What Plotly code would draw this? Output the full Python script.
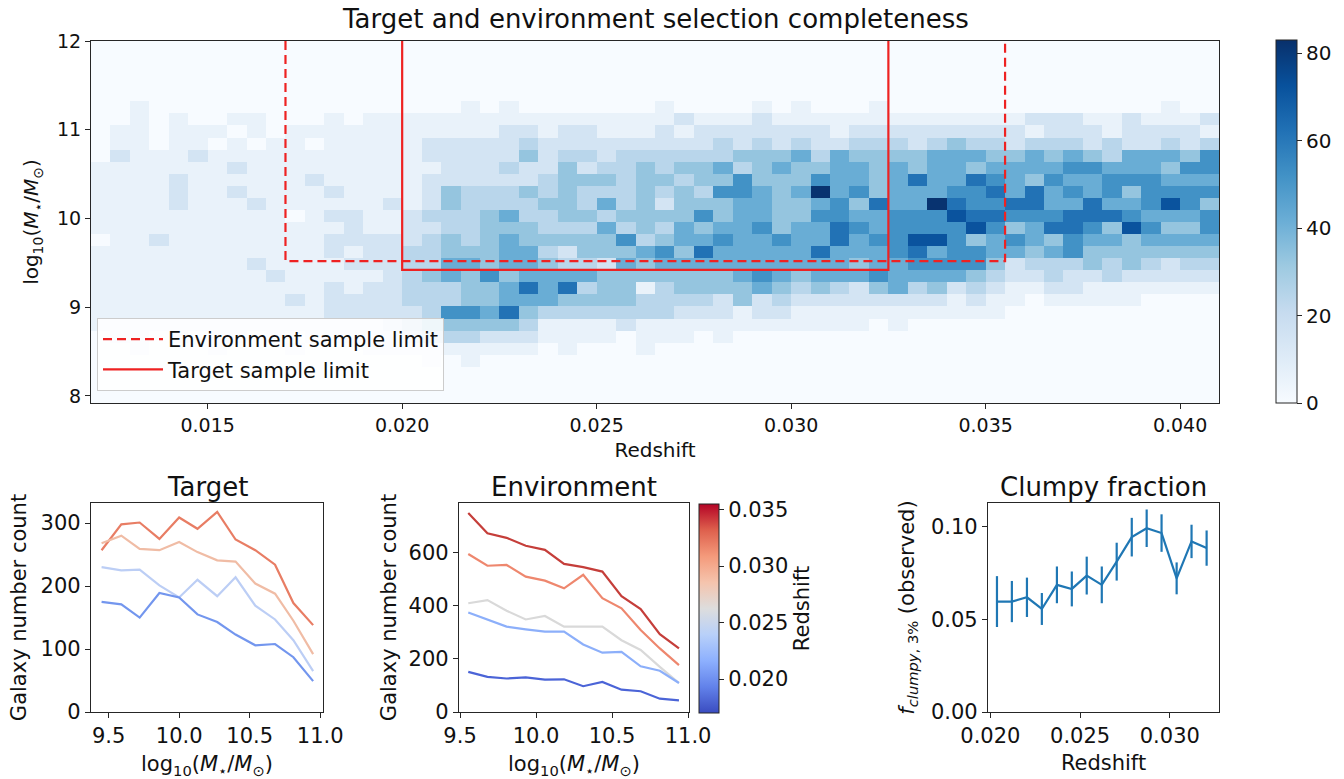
import numpy as np
import plotly.graph_objects as go

# ---------------- data ----------------
# 2D histogram of (redshift, log mass); rows listed from TOP (high mass) to BOTTOM (low mass)
# each character is a count level; LEVEL_COUNTS maps a level to galaxies per cell
LEVEL_COUNTS = [0, 6, 15, 24, 33, 42, 52, 62, 72, 82]
HIST_ROWS = [
    "0000000000000000000000000000000000000000000000000000000000",
    "0000000000000000000000000000000000000000000000000000000000",
    "0000000000000000000000000000000000000000000000000000000000",
    "0000000000000000000000000000000000000000000000000000000000",
    "0000000000000000000000000000000000000000000000000000000000",
    "001000000000" "00000001010" "000000100001" "01000100000" "000000000100",
    "001010011000" "10111111111" "111111121112" "11111111111" "112221121112",
    "011011101011" "11111111122" "122111212222" "22212222222" "221222122221",
    "011011010110" "11111222223" "222222222323" "23223332343" "323332322323",
    "021112111111" "11111222224" "233233333344" "45354444555" "445454355546",
    "111111121111" "11111122232" "242334344534" "54455454554" "555566555466",
    "111121111112" "11111222222" "344434434464" "44655457557" "654655666555",
    "111121121111" "21111243334" "343334343665" "45956455566" "757565646666",
    "111121112111" "11121243333" "443534244455" "44564755976" "677557556864",
    "111111111101" "22112333453" "344344446455" "44665566687" "766677765556",
    "111111111111" "12112233444" "333534354556" "45576566668" "645776486446",
    "011211111111" "22222343454" "444463455655" "65575668864" "565465545555",
    "111111111111" "21223344455" "324445647555" "55755567566" "554564444444",
    "111111112111" "12223355455" "433254555555" "55554556666" "423334343233",
    "111111111211" "11123454645" "555444444456" "54555655554" "322322322222",
    "111111111111" "21223334457" "573441344445" "43432453423" "211221111111",
    "111111111121" "22223334455" "544443333242" "32222222212" "110111110000",
    "111111111111" "22222366574" "333333322212" "21111111111" "100000000000",
    "111111111111" "11123444443" "111121111111" "11111010000" "000000000000",
    "011010110101" "11112333222" "111101110100" "00000000000" "000000000000",
    "001000100010" "00111111111" "010001000000" "00000000000" "000000000000",
    "000000000000" "00000101000" "000000000000" "00000000000" "000000000000",
    "0000000000000000000000000000000000000000000000000000000000",
    "0000000000000000000000000000000000000000000000000000000000",
    "0000000000000000000000000000000000000000000000000000000000",
]
Z_RANGE = (0.012, 0.041)          # redshift histogram range
MASS_RANGE = (7.92, 12.0)         # log mass histogram range

ENV_Z_LIMITS = [0.017, 0.0355]
ENV_MASS_LIMIT = 9.52
TGT_Z_LIMITS = [0.020, 0.0325]
TGT_MASS_LIMIT = 9.42

# Target: galaxy counts per mass bin, four redshift slices
TGT_MASS = [9.45, 9.59, 9.72, 9.86, 10.0, 10.13, 10.27, 10.4, 10.54, 10.68, 10.81, 10.95]
TGT_COUNTS = [
    [257, 298, 301, 275, 309, 291, 318, 274, 257, 234, 173, 138],
    [268, 280, 259, 257, 270, 254, 241, 239, 204, 188, 145, 92],
    [230, 225, 226, 201, 182, 210, 184, 214, 169, 147, 114, 65],
    [175, 171, 150, 189, 182, 155, 143, 123, 106, 108, 87, 49],
]
TGT_COLORS = ["#e87d64", "#f0bca5", "#bccef5", "#7396ee"]

# Environment: galaxy counts per mass bin, five redshift slices
ENV_MASS = [9.554, 9.68, 9.806, 9.932, 10.058, 10.184, 10.31, 10.436, 10.562, 10.688, 10.814, 10.94]
ENV_COUNTS = [
    [748, 672, 655, 625, 610, 557, 545, 528, 436, 387, 293, 239],
    [594, 550, 553, 509, 494, 465, 516, 428, 390, 308, 239, 176],
    [409, 421, 381, 348, 361, 321, 321, 321, 270, 233, 170, 109],
    [374, 346, 321, 311, 302, 302, 254, 223, 226, 172, 155, 109],
    [151, 132, 126, 130, 122, 123, 97, 113, 84, 78, 50, 44],
]
ENV_COLORS = ["#c53e3a", "#ee876e", "#d9d9d9", "#8cafFA", "#4b64d7"]

# Clumpy fraction vs redshift
CLUMPY_Z = [0.02037, 0.0212, 0.02204, 0.02287, 0.02371, 0.02454, 0.02537, 0.02621,
            0.02704, 0.02788, 0.02871, 0.02954, 0.03038, 0.03121, 0.03205]
CLUMPY_F = [0.0595, 0.0595, 0.0618, 0.0555, 0.0685, 0.0663, 0.0735, 0.0685,
            0.081, 0.0942, 0.099, 0.0964, 0.072, 0.0919, 0.0883]
CLUMPY_ERR = [0.0137, 0.0111, 0.0106, 0.0086, 0.0099, 0.0094, 0.0102, 0.0099,
              0.0102, 0.0104, 0.0101, 0.0101, 0.0086, 0.009, 0.0095]

# ---------------- figure ----------------
W, H = 1344, 779
FONT = "DejaVu Sans"
AX = "#262626"

hist = np.array([[LEVEL_COUNTS[int(c)] for c in row] for row in HIST_ROWS][::-1], dtype=float)
nrow, ncol = hist.shape
zx_edges = np.linspace(Z_RANGE[0], Z_RANGE[1], ncol + 1)
my_edges = np.linspace(MASS_RANGE[0], MASS_RANGE[1], nrow + 1)
zx_c = 0.5 * (zx_edges[:-1] + zx_edges[1:])
my_c = 0.5 * (my_edges[:-1] + my_edges[1:])

BLUES = [[0.0, "rgb(247,251,255)"], [0.125, "rgb(222,235,247)"], [0.25, "rgb(198,219,239)"],
         [0.375, "rgb(158,202,225)"], [0.5, "rgb(107,174,214)"], [0.625, "rgb(66,146,198)"],
         [0.75, "rgb(33,113,181)"], [0.875, "rgb(8,81,156)"], [1.0, "rgb(8,48,107)"]]
COOLWARM = [[0.0, "rgb(58,76,192)"], [0.125, "rgb(98,130,234)"], [0.25, "rgb(141,176,254)"],
            [0.375, "rgb(184,208,249)"], [0.5, "rgb(221,221,221)"], [0.625, "rgb(245,196,173)"],
            [0.75, "rgb(244,154,123)"], [0.875, "rgb(222,96,77)"], [1.0, "rgb(180,4,38)"]]

def px_x(a, b):
    return [a / W, b / W]

def px_y(top, bottom):
    return [1 - bottom / H, 1 - top / H]

fig = go.Figure()

fig.add_trace(go.Heatmap(
    x=zx_c, y=my_c, z=hist, colorscale=BLUES, zmin=0, zmax=83,
    xaxis="x", yaxis="y", hoverinfo="skip",
    colorbar=dict(x=1276 / W, xanchor="left", xpad=0, ypad=0, thickness=21,
                  lenmode="pixels", len=363, y=1 - 221.5 / H, yanchor="middle",
                  outlinewidth=1, outlinecolor=AX, tickvals=[0, 20, 40, 60, 80],
                  ticks="outside", ticklen=5, tickcolor=AX,
                  tickfont=dict(family=FONT, size=20, color="#111")),
))

ytop = MASS_RANGE[1]
fig.add_trace(go.Scatter(
    x=[ENV_Z_LIMITS[0], ENV_Z_LIMITS[0], ENV_Z_LIMITS[1], ENV_Z_LIMITS[1]],
    y=[ytop, ENV_MASS_LIMIT, ENV_MASS_LIMIT, ytop],
    mode="lines", line=dict(color="#ee2222", width=2.2, dash="9px,5px"),
    name="Environment sample limit", xaxis="x", yaxis="y"))
fig.add_trace(go.Scatter(
    x=[TGT_Z_LIMITS[0], TGT_Z_LIMITS[0], TGT_Z_LIMITS[1], TGT_Z_LIMITS[1]],
    y=[ytop, TGT_MASS_LIMIT, TGT_MASS_LIMIT, ytop],
    mode="lines", line=dict(color="#ee2222", width=2.2),
    name="Target sample limit", xaxis="x", yaxis="y"))

for counts, col in zip(TGT_COUNTS, TGT_COLORS):
    fig.add_trace(go.Scatter(x=TGT_MASS, y=counts, mode="lines", line=dict(color=col, width=2.2),
                             xaxis="x2", yaxis="y2", showlegend=False))
for counts, col in zip(ENV_COUNTS, ENV_COLORS):
    fig.add_trace(go.Scatter(x=ENV_MASS, y=counts, mode="lines", line=dict(color=col, width=2.2),
                             xaxis="x3", yaxis="y3", showlegend=False))

# colour bar for the environment redshift slices
fig.add_trace(go.Scatter(
    x=ENV_MASS[:2], y=ENV_COUNTS[0][:2], mode="markers", xaxis="x3", yaxis="y3",
    showlegend=False, hoverinfo="skip",
    marker=dict(size=0.1, opacity=0, color=[ENV_Z_LIMITS[0], ENV_Z_LIMITS[1]],
                colorscale=COOLWARM, cmin=ENV_Z_LIMITS[0], cmax=ENV_Z_LIMITS[1], showscale=True,
                colorbar=dict(x=699 / W, xanchor="left", xpad=0, ypad=0, thickness=20,
                              lenmode="pixels", len=209, y=1 - 608.5 / H, yanchor="middle",
                              outlinewidth=1, outlinecolor=AX,
                              tickvals=[0.020, 0.025, 0.030, 0.035], tickformat=".3f",
                              ticks="outside", ticklen=5, tickcolor=AX,
                              tickfont=dict(family=FONT, size=21, color="#111"),
                              title=dict(text="Redshift", side="right",
                                         font=dict(family=FONT, size=21, color="#111"))))))

fig.add_trace(go.Scatter(
    x=CLUMPY_Z, y=CLUMPY_F, mode="lines", line=dict(color="#1f77b4", width=2.2),
    error_y=dict(type="data", array=CLUMPY_ERR, color="#1f77b4", thickness=2.2, width=0),
    xaxis="x4", yaxis="y4", showlegend=False))

def axis_common(size):
    return dict(showline=True, mirror=True, linecolor=AX, linewidth=1.2, ticks="outside",
                ticklen=5, tickcolor=AX, showgrid=False, zeroline=False, automargin=False,
                tickfont=dict(family=FONT, size=size, color="#111"))

MASS_LABEL = "log<sub>10</sub>(<i>M</i><sub>⋆</sub>/<i>M</i><sub>⊙</sub>)"

fig.update_layout(
    width=W, height=H, margin=dict(l=0, r=0, t=0, b=0),
    paper_bgcolor="white", plot_bgcolor="white",
    font=dict(family=FONT, color="#111"),
    xaxis=dict(domain=px_x(91, 1219), anchor="y", range=list(Z_RANGE),
               tickvals=[0.015, 0.020, 0.025, 0.030, 0.035, 0.040], tickformat=".3f",
               title=dict(text="Redshift", font=dict(family=FONT, size=20), standoff=8),
               **axis_common(19)),
    yaxis=dict(domain=px_y(41, 403), anchor="x", range=list(MASS_RANGE),
               tickvals=[8, 9, 10, 11, 12],
               title=dict(text=MASS_LABEL, font=dict(family=FONT, size=20), standoff=12),
               **axis_common(19)),
    xaxis2=dict(domain=px_x(91, 323), anchor="y2", range=[9.375, 11.02],
                tickvals=[9.5, 10.0, 10.5, 11.0], tickformat=".1f",
                title=dict(text=MASS_LABEL, font=dict(family=FONT, size=21), standoff=9),
                **axis_common(21)),
    yaxis2=dict(domain=px_y(503, 712), anchor="x2", range=[0, 332],
                tickvals=[0, 100, 200, 300],
                title=dict(text="Galaxy number count", font=dict(family=FONT, size=21), standoff=8),
                **axis_common(21)),
    xaxis3=dict(domain=px_x(459, 689), anchor="y3", range=[9.493, 11.006],
                tickvals=[9.5, 10.0, 10.5, 11.0], tickformat=".1f",
                title=dict(text=MASS_LABEL, font=dict(family=FONT, size=21), standoff=9),
                **axis_common(21)),
    yaxis3=dict(domain=px_y(503, 712), anchor="x3", range=[0, 786],
                tickvals=[0, 200, 400, 600],
                title=dict(text="Galaxy number count", font=dict(family=FONT, size=21), standoff=6),
                **axis_common(21)),
    xaxis4=dict(domain=px_x(988, 1219), anchor="y4", range=[0.01987, 0.03274],
                tickvals=[0.020, 0.025, 0.030], tickformat=".3f",
                title=dict(text="Redshift", font=dict(family=FONT, size=21), standoff=8),
                **axis_common(21)),
    yaxis4=dict(domain=px_y(503, 712), anchor="x4", range=[0, 0.1126],
                tickvals=[0.0, 0.05, 0.10], tickformat=".2f",
                title=dict(text="<i>f</i><sub><i>clumpy</i>, 3%</sub> (observed)",
                           font=dict(family=FONT, size=21), standoff=10),
                **axis_common(21)),
    legend=dict(x=97 / W, y=1 - 318 / H, xanchor="left", yanchor="top",
                bgcolor="rgba(255,255,255,0.85)", bordercolor="#cccccc", borderwidth=1,
                font=dict(family=FONT, size=21, color="#111"), tracegroupgap=2,
                itemwidth=60),
    annotations=[
        dict(text="Target and environment selection completeness", x=655 / W, y=1 - 19 / H,
             xref="paper", yref="paper", showarrow=False, xanchor="center", yanchor="middle",
             font=dict(family=FONT, size=26, color="#111")),
        dict(text="Target", x=207 / W, y=1 - 487 / H, xref="paper", yref="paper",
             showarrow=False, xanchor="center", yanchor="middle",
             font=dict(family=FONT, size=26, color="#111")),
        dict(text="Environment", x=574 / W, y=1 - 487 / H, xref="paper", yref="paper",
             showarrow=False, xanchor="center", yanchor="middle",
             font=dict(family=FONT, size=26, color="#111")),
        dict(text="Clumpy fraction", x=1103 / W, y=1 - 487 / H, xref="paper", yref="paper",
             showarrow=False, xanchor="center", yanchor="middle",
             font=dict(family=FONT, size=26, color="#111")),
    ],
)

fig.write_html("out.html")
